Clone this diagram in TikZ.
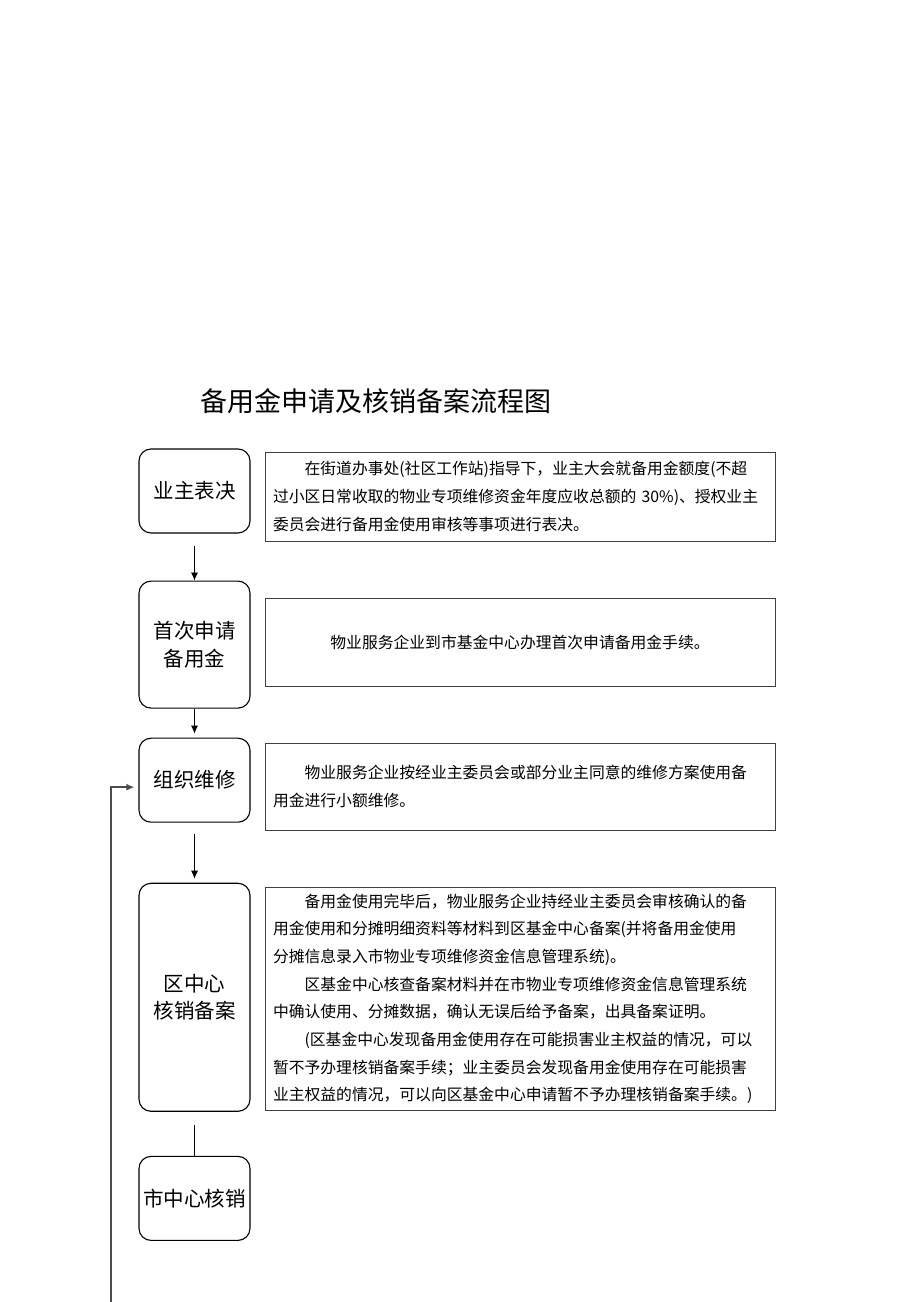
\documentclass[tikz,border=0pt]{standalone}
\usepackage{fontspec}
\setmainfont{Noto Sans CJK SC}
\usetikzlibrary{positioning,arrows.meta}
\setlength{\parindent}{0pt}

\begin{document}
\begin{tikzpicture}[auto, node distance=2cm and 14pt, >={Latex[length=8pt,width=7pt]}]
	\tikzstyle{stage} = [rectangle, rounded corners=12pt, draw=black, line width=1.1pt, minimum width=111pt, align=center, inner sep=0pt, font=\fontsize{20.5pt}{27.5pt}\selectfont];
	\tikzstyle{detail} = [rectangle, draw=black!75, line width=0.9pt, text width=494pt, inner xsep=8pt, inner ysep=3pt, align=left, font=\fontsize{15.8pt}{27.7pt}\selectfont];
	\tikzstyle{heading} = [font=\fontsize{27pt}{32pt}\selectfont];
	
	\useasboundingbox (0,0) rectangle (920pt,1302pt);
	
	\node[heading](title) at (376pt,901pt){备用金申请及核销备案流程图};
	
	\node[stage, minimum height=84pt](owner vote) at (194.5pt,811pt){业主表决};
	\node[stage, minimum height=127pt, below = 47pt of owner vote](first apply){首次申请\\备用金};
	\node[stage, minimum height=84pt, below = 29pt of first apply](repair){组织维修};
	\node[stage, minimum height=228pt, below = 60pt of repair](district check){区中心\\核销备案};
	\node[stage, minimum height=84pt, below = 44pt of district check](city check){市中心核销};
	
	\node[detail, minimum height=89pt, right = of owner vote, yshift=-5.5pt](vote text){\hspace*{2em}在街道办事处(社区工作站)指导下，业主大会就备用金额度(不超\\
		过小区日常收取的物业专项维修资金年度应收总额的 30\%)、授权业主\\
		委员会进行备用金使用审核等事项进行表决。};
	\node[detail, minimum height=88pt, align=center, right = of first apply, yshift=2.5pt](apply text){物业服务企业到市基金中心办理首次申请备用金手续。};
	\node[detail, minimum height=87pt, right = of repair, yshift=-6.5pt](repair text){\hspace*{2em}物业服务企业按经业主委员会或部分业主同意的维修方案使用备\\
		用金进行小额维修。};
	\node[detail, minimum height=223pt, right = of district check, yshift=-1.5pt](district text){\hspace*{2em}备用金使用完毕后，物业服务企业持经业主委员会审核确认的备\\
		用金使用和分摊明细资料等材料到区基金中心备案(并将备用金使用\\
		分摊信息录入市物业专项维修资金信息管理系统)。\\
		\hspace*{2em}区基金中心核查备案材料并在市物业专项维修资金信息管理系统\\
		中确认使用、分摊数据，确认无误后给予备案，出具备案证明。\\
		\hspace*{2em}(区基金中心发现备用金使用存在可能损害业主权益的情况，可以\\
		暂不予办理核销备案手续；业主委员会发现备用金使用存在可能损害\\
		业主权益的情况，可以向区基金中心申请暂不予办理核销备案手续。)};
	
	\coordinate (loop start) at (111pt,0pt);
	
	\path[draw=black, line width=0.9pt, ->] (owner vote) edge[shorten <=12pt] (first apply)
	(first apply) edge[shorten >=4pt] (repair)
	(repair) edge[shorten <=11pt, shorten >=4pt] (district check);
	
	\path[draw=black, line width=0.9pt] (district check) edge[shorten <=13pt] (city check);
	
	\draw[black!70, line width=1.5pt, ->, shorten >=4pt] (loop start) |- ([yshift=-7pt]repair.west);
\end{tikzpicture}
\end{document}
